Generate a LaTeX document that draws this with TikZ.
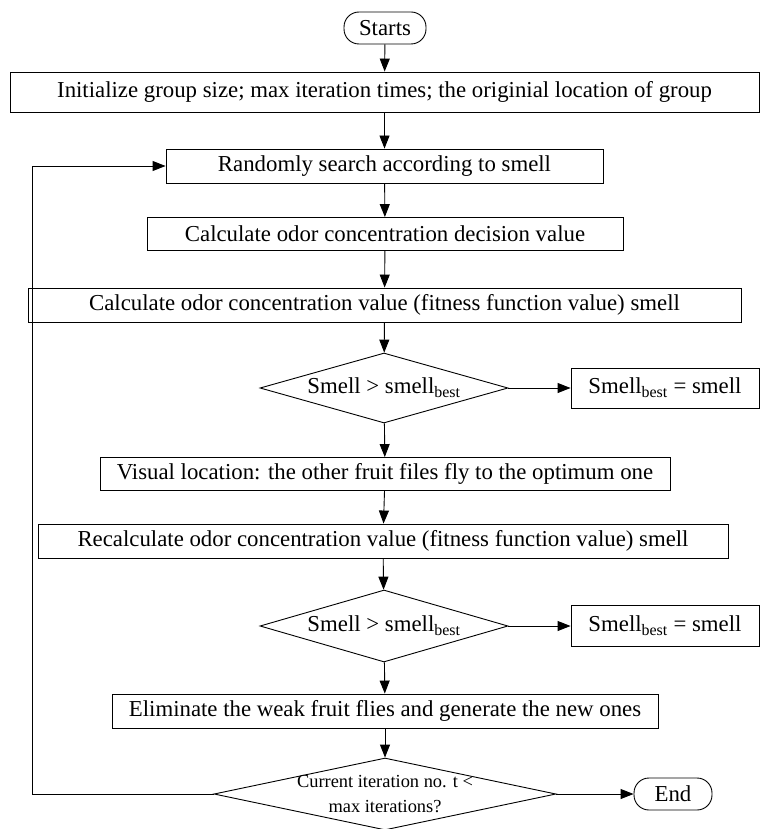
\documentclass[tikz,border=0pt]{standalone}
\usepackage{fontspec}
\setmainfont{Liberation Serif}
\usetikzlibrary{shapes.geometric,arrows.meta}
\tikzset{
  base/.style={draw, line width=0.9pt, inner sep=0pt, font=\fontsize{22.8}{27}\selectfont},
  box/.style={base, rectangle},
  term/.style={base, rectangle, rounded corners=15pt},
  dia/.style={draw, line width=0.9pt, diamond, inner sep=0pt},
  lbl/.style={inner sep=0pt, font=\fontsize{22.8}{27}\selectfont},
  arr/.style={-{Triangle[length=13pt,width=10pt]}, line width=0.9pt}
}
\begin{document}
\begin{tikzpicture}[x=1pt,y=-1pt]
\useasboundingbox (0,0) rectangle (761,829);
\node[term, minimum width=82pt, minimum height=32pt] (start) at (385,28) {Starts};
\node[box, minimum width=749pt, minimum height=40pt] (init) at (384.5,92) {Initialize group size; max iteration times; the originial location of group};
\node[box, minimum width=437pt, minimum height=34pt] (rand) at (384.5,166) {Randomly search according to smell};
\node[box, minimum width=476pt, minimum height=33pt] (dec) at (385,234) {Calculate odor concentration decision value};
\node[box, minimum width=713pt, minimum height=34pt] (val) at (384.5,305) {Calculate odor concentration value (fitness function value) smell};
\node[dia, minimum width=248pt, minimum height=70pt] (d1) at (384,388) {};
\node[lbl] at (d1) {Smell > smell\textsubscript{best}};
\node[box, minimum width=188pt, minimum height=40pt] (b1) at (665,388) {Smell\textsubscript{best} = smell};
\node[box, minimum width=570pt, minimum height=33pt] (vis) at (385,474) {Visual location: the other fruit files fly to the optimum one};
\node[box, minimum width=690pt, minimum height=34pt] (rec) at (383,541) {Recalculate odor concentration value (fitness function value) smell};
\node[dia, minimum width=248pt, minimum height=72pt] (d2) at (384,626) {};
\node[lbl] at (d2) {Smell > smell\textsubscript{best}};
\node[box, minimum width=188pt, minimum height=41pt] (b2) at (665,626) {Smell\textsubscript{best} = smell};
\node[box, minimum width=546pt, minimum height=34pt] (elim) at (385,711) {Eliminate the weak fruit flies and generate the new ones};
\node[dia, minimum width=342pt, minimum height=72pt] (d3) at (385,794) {};
\node[lbl, align=center, font=\fontsize{18.4}{25}\selectfont] at (d3) {Current iteration no. t <\\max iterations?};
\node[term, minimum width=78pt, minimum height=32pt] (end) at (673,794) {End};
\coordinate (lp) at (32,794);
\draw[arr] (start) -- (init);
\draw[arr] (init) -- (rand);
\draw[arr] (rand) -- (dec);
\draw[arr] (dec) -- (val);
\draw[arr] (val) -- (d1);
\draw[arr] (d1) -- (b1);
\draw[arr] (d1) -- (vis);
\draw[arr] (vis) -- (rec);
\draw[arr] (rec) -- (d2);
\draw[arr] (d2) -- (b2);
\draw[arr] (d2) -- (elim);
\draw[arr] (elim) -- (d3);
\draw[arr] (d3) -- (end);
\draw[arr] (d3.west) -- (lp) |- (rand.west);
\end{tikzpicture}
\end{document}
